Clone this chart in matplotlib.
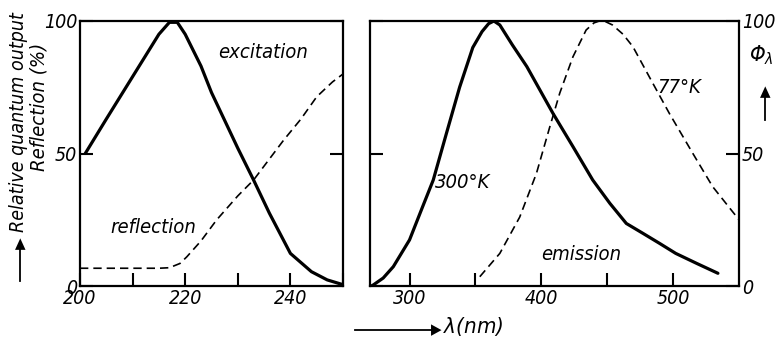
import matplotlib.pyplot as plt

# excitation / reflection (left panel)
exc_wl = [201, 205, 210, 215, 217, 218.5, 220, 223, 225, 230, 233, 236, 240, 244, 247, 250]
exc_val = [50, 63, 79, 95, 99.5, 99.5, 95, 83, 73, 52, 40, 27.5, 12.3, 5.4, 2.3, 0.5]
refl_wl = [200, 205, 210, 215, 217, 219, 220.3, 223, 226, 230, 233, 238.7, 242, 245, 248, 250]
refl_val = [6.7, 6.7, 6.7, 6.7, 6.9, 8.5, 11, 17, 25, 34, 40, 55, 63, 71.4, 77, 80]

# emission (right panel)
em300_wl = [271, 272.5, 280, 287.7, 300, 310, 318, 328, 338, 348, 355, 360, 364, 368.5,
            378, 389, 409, 424, 439, 452, 464.5, 477, 490, 502, 518, 534]
em300_val = [0, 0.4, 3, 7.3, 17.4, 30, 40, 57.6, 75, 90, 96, 99, 100, 98.5,
             91, 82.8, 65, 52.6, 40, 31.2, 23.6, 19.9, 16, 12.3, 8.5, 4.8]
em77_wl = [353.3, 368.5, 383.6, 396.3, 406.4, 414, 424, 434, 440, 444, 449, 454, 462,
           469.5, 484.6, 497.3, 515, 530, 550]
em77_val = [3.5, 12.3, 26, 42.5, 60, 72.8, 86.5, 96.6, 99.3, 100, 99.7, 98.5, 95,
            90.3, 76.5, 65, 50, 37.5, 25]

left_ticks = [200, 210, 220, 230, 240, 250]
left_labels = ['200', '', '220', '', '240', '']
right_ticks = [300, 350, 400, 450, 500]
right_labels = ['300', '', '400', '', '500']
y_ticks = [0, 50, 100]

plt.rcParams['font.family'] = ['DejaVu Sans']
plt.rcParams['font.style'] = 'italic'
plt.rcParams['font.stretch'] = 'condensed'
plt.rcParams['mathtext.fontset'] = 'dejavusans'

fig = plt.figure(figsize=(7.76, 3.39), dpi=100)
ax1 = fig.add_axes([80/776, 1-286/339, 263/776, 265/339])
ax2 = fig.add_axes([370/776, 1-286/339, 369/776, 265/339])

for ax in (ax1, ax2):
    for s in ax.spines.values():
        s.set_linewidth(1.6)
    ax.set_ylim(0, 100)
    ax.set_yticks(y_ticks)
    ax.tick_params(direction='in', length=9.5, width=1.5, labelsize=14, pad=2,
                   left=True, right=True)

ax1.plot(exc_wl, exc_val, color='black', lw=2.3, solid_capstyle='round')
ax1.plot(refl_wl, refl_val, color='black', lw=1.2, dashes=[5, 3])
ax1.set_xlim(200, 250)
ax1.set_xticks(left_ticks)
ax1.set_xticklabels(left_labels)
ax1.set_yticklabels(['0', '50', '100'])
ax1.tick_params(labelright=False)
ax1.text(234.8, 88, 'excitation', fontsize=14.5, ha='center', va='center')
ax1.text(214, 22, 'reflection', fontsize=14.5, ha='center', va='center')

ax2.plot(em300_wl, em300_val, color='black', lw=2.3, solid_capstyle='round')
ax2.plot(em77_wl, em77_val, color='black', lw=1.2, dashes=[5, 3])
ax2.set_xlim(270, 550)
ax2.set_xticks(right_ticks)
ax2.set_xticklabels(right_labels)
ax2.set_yticklabels(['0', '50', '100'])
ax2.tick_params(labelleft=False, labelright=True)
ax2.text(340, 39, '300°K', fontsize=14.5, ha='center', va='center')
ax2.text(505, 75, '77°K', fontsize=14.5, ha='center', va='center')
ax2.text(430, 12, 'emission', fontsize=14.5, ha='center', va='center')

# axis captions with arrows
fig.text(19/776, 1-122/339, 'Relative quantum output', rotation=90, fontsize=14,
         ha='center', va='center')
fig.text(39/776, 1-107/339, 'Reflection (%)', rotation=90, fontsize=14.5,
         ha='center', va='center')
fig.add_artist(plt.Line2D([20/776, 20/776], [1-281/339, 1-248/339], color='black', lw=1.3))
fig.text(20/776, 1-244/339, '▲', fontsize=11, ha='center', va='center', family='DejaVu Sans')

fig.text(761/776, 1-55/339, r'$\Phi_\lambda$', fontsize=16, ha='center', va='center')
fig.add_artist(plt.Line2D([765/776, 765/776], [1-120/339, 1-96/339], color='black', lw=1.3))
fig.text(765/776, 1-92/339, '▲', fontsize=11, ha='center', va='center', family='DejaVu Sans')

fig.add_artist(plt.Line2D([355/776, 432/776], [1-330/339, 1-330/339], color='black', lw=1.3))
fig.text(436/776, 1-330/339, '▶', fontsize=11, ha='center', va='center', family='DejaVu Sans')
fig.text(443/776, 1-326/339, r'$\lambda$(nm)', fontsize=16, ha='left', va='center')

fig.savefig('out.png', dpi=100)
